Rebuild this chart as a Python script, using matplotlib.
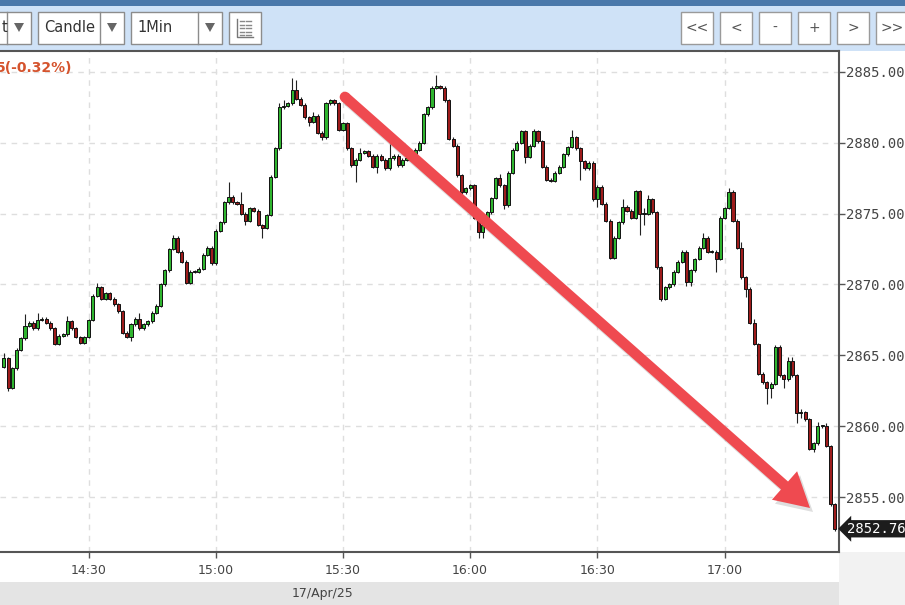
import matplotlib
matplotlib.use('Agg')
import matplotlib.pyplot as plt
import numpy as np
from matplotlib.patches import Rectangle, Polygon, Circle
from matplotlib.ticker import FormatStrFormatter
from matplotlib.transforms import blended_transform_factory, ScaledTranslation

# 1-minute candles, 17/Apr/25, first candle at 14:10
start_time = '14:10'
first_open = 2864.2
closes = [
    2864.8, 2862.7, 2864.1, 2865.4, 2866.2, 2867.1, 2867.3, 2866.9, 2867.5, 2867.6,
    2867.3, 2866.9, 2865.8, 2866.4, 2866.5, 2867.4, 2866.9, 2866.3, 2865.9, 2866.3,
    2867.5, 2869.2, 2869.8, 2869.0, 2869.4, 2869.0, 2868.6, 2868.1, 2866.6, 2866.3,
    2867.2, 2867.6, 2866.9, 2867.2, 2867.4, 2868.0, 2868.5, 2870.0, 2871.0, 2872.5,
    2873.3, 2872.3, 2871.6, 2870.1, 2870.9, 2870.9, 2871.1, 2872.1, 2872.6, 2871.5,
    2873.8, 2874.4, 2875.8, 2876.2, 2875.8, 2875.7, 2875.0, 2874.5, 2875.4, 2875.2,
    2874.2, 2874.0, 2874.9, 2877.6, 2879.6, 2882.5, 2882.6, 2882.8, 2883.7, 2883.1,
    2882.7, 2881.8, 2881.5, 2881.9, 2880.7, 2880.4, 2882.8, 2883.0, 2882.8, 2880.9,
    2881.4, 2879.6, 2878.4, 2878.8, 2879.3, 2879.4, 2879.1, 2878.3, 2879.1, 2878.8,
    2878.2, 2878.9, 2879.1, 2878.4, 2878.8, 2878.9, 2878.8, 2879.5, 2880.0, 2882.0,
    2882.5, 2883.9, 2884.0, 2883.9, 2883.0, 2880.3, 2879.8, 2877.7, 2876.5, 2876.8,
    2877.0, 2874.7, 2873.7, 2874.2, 2875.1, 2876.1, 2877.5, 2877.0, 2875.6, 2877.9,
    2879.5, 2880.0, 2880.8, 2879.0, 2879.8, 2880.8, 2880.1, 2878.3, 2877.4, 2877.3,
    2877.9, 2878.3, 2879.2, 2879.7, 2880.4, 2879.6, 2878.7, 2878.2, 2878.6, 2876.0,
    2876.9, 2875.7, 2874.5, 2871.9, 2873.3, 2874.4, 2875.5, 2875.2, 2874.7, 2876.6,
    2875.0, 2875.0, 2876.0, 2875.1, 2871.2, 2869.0, 2869.8, 2870.0, 2870.9, 2871.6,
    2872.3, 2870.2, 2871.0, 2871.8, 2872.6, 2873.3, 2872.3, 2872.3, 2871.8, 2874.7,
    2875.4, 2876.5, 2874.5, 2872.6, 2870.5, 2869.7, 2867.3, 2865.8, 2863.7, 2863.1,
    2862.7, 2863.0, 2865.6, 2863.6, 2863.3, 2864.6, 2863.6, 2860.9, 2861.0, 2860.5,
    2858.4, 2858.8, 2860.0, 2860.0, 2858.6, 2854.5, 2852.76,
]
# wick length above / below the body
upper_wick = [
    0.4, 0.1, 0.1, 0.1, 0.1, 0.8, 0.1, 0.1, 0.5, 0.1,
    0.1, 0.1, 0.1, 0.1, 0.1, 0.4, 0.1, 0.1, 0.1, 0.1,
    0.1, 0.1, 0.3, 0.1, 0.1, 0.1, 0.1, 0.1, 0.1, 0.1,
    0.1, 0.1, 0.4, 0.1, 0.1, 0.1, 0.1, 0.1, 0.1, 0.1,
    0.2, 0.1, 0.1, 0.1, 0.1, 0.1, 0.1, 0.1, 0.1, 0.1,
    0.1, 0.1, 0.1, 1.0, 0.1, 0.1, 0.8, 0.1, 0.1, 0.1,
    0.1, 0.1, 0.1, 0.1, 0.1, 0.3, 0.4, 0.1, 0.9, 0.7,
    0.1, 0.1, 0.1, 0.3, 0.1, 0.1, 0.1, 0.1, 0.1, 0.1,
    0.1, 0.1, 0.1, 0.1, 0.3, 0.1, 0.1, 0.1, 0.1, 0.1,
    0.1, 1.0, 0.1, 0.1, 0.1, 0.1, 0.1, 0.1, 0.1, 0.1,
    0.1, 0.1, 0.8, 0.1, 0.1, 0.1, 0.1, 0.1, 0.1, 0.1,
    0.1, 0.1, 0.1, 0.1, 0.1, 0.1, 0.1, 0.3, 0.1, 0.1,
    0.1, 0.1, 0.1, 0.1, 0.1, 0.2, 0.1, 0.1, 0.1, 0.1,
    0.1, 0.1, 0.1, 0.1, 0.5, 0.1, 0.1, 0.1, 0.1, 0.1,
    0.1, 0.1, 0.1, 0.1, 0.1, 0.1, 0.5, 0.1, 0.1, 0.1,
    0.1, 0.4, 0.3, 0.1, 0.1, 0.1, 0.1, 0.1, 0.1, 0.1,
    0.1, 0.1, 0.1, 0.1, 0.1, 0.3, 0.1, 0.1, 0.1, 0.1,
    0.1, 0.3, 0.2, 0.1, 0.4, 0.1, 0.1, 0.3, 0.1, 0.1,
    0.1, 0.1, 0.1, 0.1, 0.1, 0.3, 0.3, 0.1, 0.2, 0.1,
    0.1, 0.1, 0.3, 0.1, 0.2, 0.1, 0.1,
]
lower_wick = [
    0.1, 0.2, 0.1, 0.1, 0.1, 0.1, 0.1, 0.1, 0.1, 0.1,
    0.1, 0.1, 0.1, 0.1, 0.1, 0.1, 0.1, 0.1, 0.1, 0.1,
    0.1, 0.1, 0.1, 0.1, 0.1, 0.1, 0.1, 0.1, 0.1, 0.1,
    0.3, 0.1, 0.1, 0.1, 0.1, 0.1, 0.1, 0.1, 0.1, 0.1,
    0.1, 0.1, 0.1, 0.1, 0.1, 0.1, 0.1, 0.1, 0.1, 0.1,
    0.1, 0.1, 0.1, 0.1, 0.1, 0.1, 0.1, 0.3, 0.1, 0.1,
    0.1, 0.7, 0.1, 0.1, 0.1, 0.1, 0.1, 0.1, 0.1, 0.1,
    0.1, 0.1, 0.3, 0.1, 0.1, 0.2, 0.1, 0.1, 0.1, 0.1,
    0.1, 0.1, 0.1, 1.2, 0.1, 0.1, 0.1, 0.1, 0.4, 0.1,
    0.1, 0.1, 0.1, 0.1, 0.1, 0.1, 0.1, 0.1, 0.1, 0.1,
    0.1, 0.1, 0.1, 0.1, 0.1, 0.1, 0.1, 0.1, 0.1, 0.1,
    0.1, 0.1, 0.4, 0.4, 0.1, 0.1, 0.1, 0.1, 0.3, 0.1,
    0.1, 0.1, 0.1, 0.4, 0.1, 0.1, 0.1, 0.1, 0.1, 0.1,
    0.1, 0.1, 0.1, 0.1, 0.1, 0.1, 1.3, 0.1, 0.1, 0.1,
    0.5, 0.1, 0.1, 0.1, 0.1, 0.1, 0.1, 0.1, 0.1, 0.1,
    1.5, 0.8, 0.1, 0.1, 0.1, 0.2, 0.1, 0.1, 0.1, 0.1,
    0.1, 0.3, 0.3, 0.1, 0.1, 0.1, 0.1, 0.1, 0.9, 0.1,
    0.1, 0.1, 0.1, 0.1, 0.1, 0.6, 0.1, 0.1, 0.1, 0.1,
    1.1, 0.7, 0.1, 0.1, 0.6, 0.1, 0.1, 0.7, 0.3, 0.1,
    0.1, 0.2, 0.1, 0.1, 0.1, 0.1, 0.15,
]
time_labels = ['14:30', '15:00', '15:30', '16:00', '16:30', '17:00']
price_ticks = [2855, 2860, 2865, 2870, 2875, 2880, 2885]
last_price = 2852.76
change_text = '5(-0.32%)'
date_text = '17/Apr/25'

opens = [first_open] + closes[:-1]
highs = [max(o, c) + w for o, c, w in zip(opens, closes, upper_wick)]
lows = [min(o, c) - w for o, c, w in zip(opens, closes, lower_wick)]
x = np.arange(len(closes))

def to_minutes(t):
    h, m = t.split(':')
    return int(h) * 60 + int(m)

tick_pos = [to_minutes(t) - to_minutes(start_time) for t in time_labels]

W, H = 905, 605
fig = plt.figure(figsize=(W / 100, H / 100), dpi=100)

# ---- background / toolbar (pixel coordinates) ----
bg = fig.add_axes([0, 0, 1, 1])
bg.set_xlim(0, W)
bg.set_ylim(H, 0)
bg.axis('off')

def rect(x0, y0, x1, y1, fc, ec='none', lw=1.0):
    bg.add_patch(Rectangle((x0, y0), x1 - x0, y1 - y0, facecolor=fc, edgecolor=ec, linewidth=lw))

rect(0, 0, W, 6, '#4a78aa')
rect(0, 6, W, 51, '#cfe2f7')
rect(0, 582, 839, H, '#e4e4e4')
rect(839, 552, W, H, '#f2f2f2')

def dropdown(x0, x1, xdiv, label):
    rect(x0, 12, x1, 44, 'white', '#8c8c8c')
    bg.plot([xdiv, xdiv], [12, 44], color='#8c8c8c', lw=1)
    cx = (xdiv + x1) / 2
    bg.add_patch(Polygon([(cx - 5, 23), (cx + 5, 23), (cx, 32)], closed=True, facecolor='#666666'))
    bg.text(x0 + 6 if x0 > 0 else 2, 28, label, fontsize=10.5, color='#333333', va='center', ha='left')

dropdown(-2, 31, 7, 't')
dropdown(38, 124, 100, 'Candle')
dropdown(131, 222, 198, '1Min')

# list icon
rect(229, 12, 261, 44, 'white', '#8c8c8c')
bg.plot([237, 237, 253], [19, 37, 37], color='#777777', lw=1)
for yy in [21, 24.5, 28, 31.5, 35]:
    bg.plot([240, 244], [yy, yy], color='#888888', lw=1)
    bg.plot([246, 251], [yy, yy], color='#888888', lw=1)

for bx, lab in zip([681, 720, 759, 798, 837, 876], ['<<', '<', '-', '+', '>', '>>']):
    rect(bx, 12, bx + 32, 44, 'white', '#9a9a9a')
    bg.text(bx + 16, 28, lab, fontsize=10, color='#555555', ha='center', va='center')

bg.text(323, 593, date_text, fontsize=9, color='#444444', ha='center', va='center')

# ---- price chart ----
ax = fig.add_axes([0, (H - 552) / H, 839 / W, (552 - 51) / H])
ax.set_xlim(-0.9, 197.0)
ax.set_ylim(2851.12, 2886.48)

ax.grid(True, color='#dedede', linestyle=(0, (4, 4)), linewidth=1)
ax.set_axisbelow(True)

colors = ['#2fb52f' if c >= o else '#9e1c1c' for o, c in zip(opens, closes)]
bottoms = [min(o, c) for o, c in zip(opens, closes)]
heights = [max(abs(c - o), 0.06) for o, c in zip(opens, closes)]
ax.vlines(x, lows, highs, color='#222222', linewidth=0.8, zorder=2)
ax.bar(x, heights, width=0.72, bottom=bottoms, color=colors,
       edgecolor='#111111', linewidth=0.7, zorder=3)

ax.spines['left'].set_visible(False)
for s in ['top', 'right', 'bottom']:
    ax.spines[s].set_color('#555555')
    ax.spines[s].set_linewidth(1.5)

ax.yaxis.tick_right()
ax.set_yticks(price_ticks)
ax.yaxis.set_major_formatter(FormatStrFormatter('%.2f'))
ax.tick_params(axis='y', length=4, width=1, color='#555555', pad=1,
               labelsize=10, labelcolor='#444444')
for lab in ax.get_yticklabels():
    lab.set_family('DejaVu Sans Mono')

ax.set_xticks(tick_pos, time_labels)
ax.tick_params(axis='x', length=4, width=1, color='#555555', pad=5,
               labelsize=9, labelcolor='#444444')

trans = blended_transform_factory(ax.transAxes, ax.transData)
ax.text(1.0, last_price, '2852.76',
        transform=trans + ScaledTranslation(6 / 72, 0, fig.dpi_scale_trans),
        ha='left', va='center', color='white', family='DejaVu Sans Mono', fontsize=10,
        bbox=dict(boxstyle='larrow,pad=0.12', facecolor='#1c1c1c', edgecolor='none'),
        clip_on=False, zorder=6)

# ---- overlay: change text and red arrow ----
ov = fig.add_axes([0, 0, 1, 1], zorder=10)
ov.set_xlim(0, W)
ov.set_ylim(H, 0)
ov.axis('off')
ov.patch.set_alpha(0)

ov.text(-4, 68, change_text, fontsize=10, fontweight='bold', color='#d5532d', va='center', ha='left')

tail = np.array([345.0, 97.0])
tip = np.array([810.0, 508.0])
u = (tip - tail) / np.hypot(*(tip - tail))
n = np.array([-u[1], u[0]])
base = tip - 34 * u
hw = 5.3
outline = [tail + hw * n, base + hw * n, base + 19 * n, tip,
           base - 19 * n, base - hw * n, tail - hw * n]
arrow_red = '#ef4a50'
shadow = np.array([3.0, 4.0])

ov.add_patch(Polygon([p + shadow for p in outline], closed=True,
                     facecolor='black', alpha=0.13, edgecolor='none'))
ov.add_patch(Circle(tuple(tail + shadow), hw, facecolor='black', alpha=0.13, edgecolor='none'))
ov.add_patch(Polygon(outline, closed=True, facecolor=arrow_red, edgecolor='none'))
ov.add_patch(Circle(tuple(tail), hw, facecolor=arrow_red, edgecolor='none'))

fig.savefig('out.png', dpi=100)
